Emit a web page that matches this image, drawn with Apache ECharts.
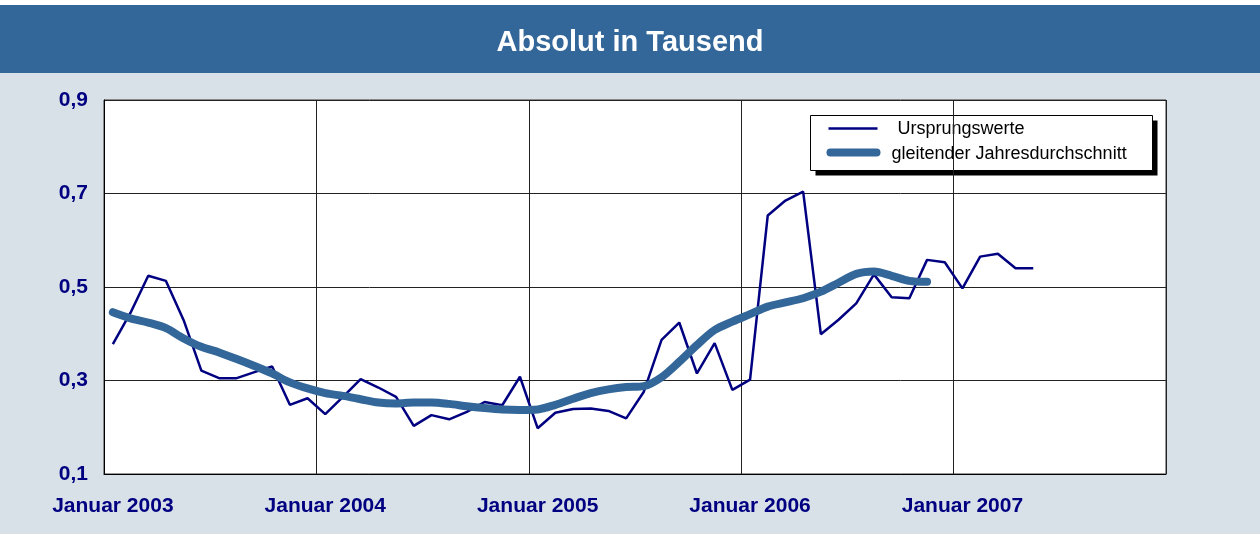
<!DOCTYPE html>
<html>
<head>
<meta charset="utf-8">
<title>Absolut in Tausend</title>
<script src="https://cdn.jsdelivr.net/npm/echarts@6/dist/echarts.min.js"></script>
<style>
  html, body { margin: 0; padding: 0; background: #d9e1e8; }
  #chart { width: 1260px; height: 534px; }
</style>
</head>
<body>
<div id="chart"></div>
<script>
// Monate Januar 2003 bis Dezember 2007
const years = [2003, 2004, 2005, 2006, 2007]
const months = []
years.forEach(function (y) {
  for (let m = 1; m <= 12; m++) months.push(m === 1 ? 'Januar ' + y : m + '/' + y)
})

// Ursprungswerte (Jan 2003 - Mai 2007)
const ursprungswerte = [
  0.378, 0.445, 0.524, 0.513, 0.429, 0.321, 0.305, 0.305, 0.318, 0.330, 0.248, 0.262,
  0.228, 0.265, 0.303, 0.285, 0.265, 0.203, 0.226, 0.217, 0.233, 0.254, 0.247, 0.308,
  0.198, 0.231, 0.239, 0.240, 0.235, 0.219, 0.276, 0.387, 0.424, 0.315, 0.380, 0.280,
  0.302, 0.653, 0.685, 0.704, 0.399, 0.430, 0.465, 0.527, 0.478, 0.476, 0.558, 0.553,
  0.497, 0.565, 0.571, 0.540, 0.540
]

// gleitender Jahresdurchschnitt (Jan 2003 - Nov 2006)
const jahresdurchschnitt = [
  0.446, 0.433, 0.424, 0.412, 0.390, 0.372, 0.360, 0.346, 0.331, 0.315, 0.296, 0.283,
  0.273, 0.267, 0.260, 0.253, 0.251, 0.253, 0.253, 0.250, 0.245, 0.241, 0.238, 0.237,
  0.238, 0.248, 0.261, 0.273, 0.281, 0.286, 0.288, 0.307, 0.340, 0.376, 0.408, 0.426,
  0.442, 0.458, 0.467, 0.476, 0.490, 0.509, 0.528, 0.533, 0.524, 0.513, 0.511
]

const seriesNames = ['Ursprungswerte', 'gleitender Jahresdurchschnitt']
const font = 'Arial, Liberation Sans'

const chart = echarts.init(document.getElementById('chart'))
chart.setOption({
  backgroundColor: '#d9e1e8',
  animation: false,
  graphic: [
    // weisser Rand oben + Titelbalken
    { type: 'rect', left: 0, top: 0, shape: { width: 1260, height: 5 }, style: { fill: '#fff' }, z: -1 },
    { type: 'rect', left: 0, top: 5, shape: { width: 1260, height: 68 }, style: { fill: '#336699' }, z: -1 },
    // Legende
    {
      type: 'group',
      left: 810,
      top: 115,
      children: [
        { type: 'rect', shape: { x: 5, y: 5, width: 342, height: 55 }, style: { fill: '#000' } },
        { type: 'rect', shape: { x: 0, y: 0, width: 342, height: 55 }, style: { fill: '#fff', stroke: '#000', lineWidth: 1 } },
        { type: 'line', shape: { x1: 18, y1: 13, x2: 67, y2: 13 }, style: { stroke: '#000080', lineWidth: 2.5 } },
        { type: 'line', shape: { x1: 20, y1: 37, x2: 66, y2: 37 }, style: { stroke: '#336699', lineWidth: 8, lineCap: 'round' } },
        {
          type: 'text', x: 87, y: 14,
          style: { text: seriesNames[0], fill: '#000', font: '18px ' + font, textVerticalAlign: 'middle' }
        },
        {
          type: 'text', x: 81, y: 39,
          style: { text: seriesNames[1], fill: '#000', font: '18px ' + font, textVerticalAlign: 'middle' }
        }
      ]
    }
  ],
  title: {
    text: 'Absolut in Tausend',
    left: 'center',
    top: 23,
    textStyle: {
      color: '#fff',
      fontFamily: font,
      fontSize: 29,
      fontWeight: 'bold'
    }
  },
  grid: {
    left: 104,
    right: 94,
    top: 100,
    bottom: 60,
    show: true,
    backgroundColor: '#fff',
    borderColor: '#333',
    borderWidth: 1
  },
  xAxis: {
    type: 'category',
    data: months,
    boundaryGap: true,
    axisLine: { lineStyle: { color: '#000' } },
    axisTick: { show: false },
    axisLabel: {
      interval: function (index) { return index % 12 === 0 },
      color: '#000080',
      fontFamily: font,
      fontWeight: 'bold',
      fontSize: 21,
      margin: 22
    },
    splitLine: {
      show: true,
      interval: function (index) { return index % 12 === 0 },
      lineStyle: { color: '#222', width: 1 }
    }
  },
  yAxis: {
    type: 'value',
    min: 0.1,
    max: 0.9,
    interval: 0.2,
    axisLine: { show: true, lineStyle: { color: '#000' } },
    axisTick: { show: false },
    axisLabel: {
      color: '#000080',
      fontFamily: font,
      fontWeight: 'bold',
      fontSize: 21,
      margin: 16,
      padding: [4, 0, 0, 0],
      formatter: function (v) { return v.toFixed(1).replace('.', ',') }
    },
    splitLine: { lineStyle: { color: '#222', width: 1 } }
  },
  series: [
    {
      name: seriesNames[0],
      type: 'line',
      data: ursprungswerte,
      symbol: 'none',
      z: 2,
      itemStyle: { color: '#000080' },
      lineStyle: { color: '#000080', width: 2.5 }
    },
    {
      name: seriesNames[1],
      type: 'line',
      data: jahresdurchschnitt,
      symbol: 'none',
      smooth: 0.3,
      z: 3,
      itemStyle: { color: '#336699' },
      lineStyle: { color: '#336699', width: 8, cap: 'round', join: 'round' }
    }
  ]
})
</script>
</body>
</html>
